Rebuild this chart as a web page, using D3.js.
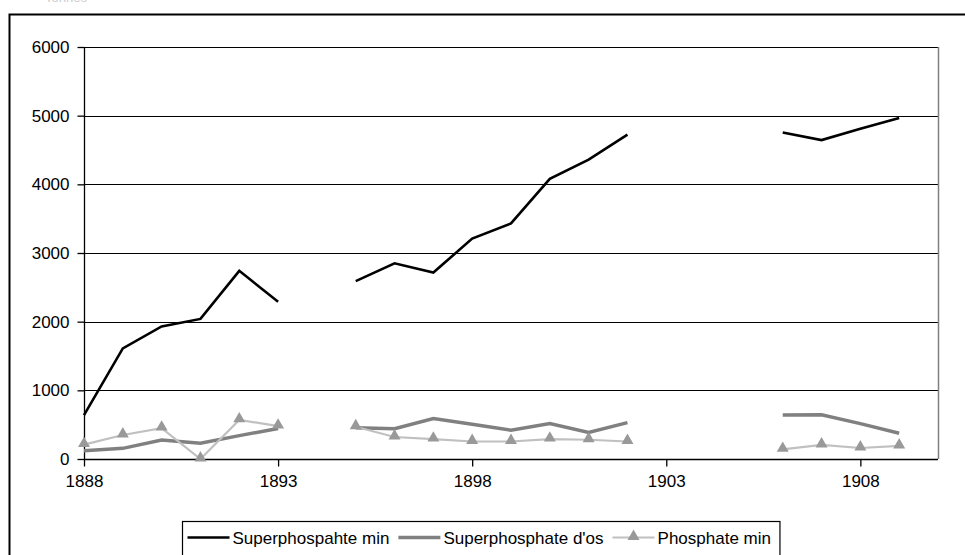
<!DOCTYPE html>
<html>
<head>
<meta charset="utf-8">
<script src="https://cdn.jsdelivr.net/npm/d3@7"></script>
<style>
  body { margin: 0; background: #fff; }
  svg { display: block; font-family: "Liberation Sans", Arial, sans-serif; }
</style>
</head>
<body>
<svg></svg>
<script>
var w = 965, h = 555

// categories (years) and series, tonnes
var years = [1888, 1889, 1890, 1891, 1892, 1893, 1894, 1895, 1896, 1897, 1898, 1899,
             1900, 1901, 1902, 1903, 1904, 1905, 1906, 1907, 1908, 1909, 1910]
var superMin = [640, 1610, 1930, 2040, 2740, 2290, null, 2590, 2850, 2715, 3210, 3430,
                4080, 4360, 4725, null, null, null, 4755, 4645, 4810, 4965, null]
var superOs = [120, 155, 275, 230, 340, 445, null, 455, 440, 590, 505, 420,
               515, 385, 530, null, null, null, 640, 645, 515, 375, null]
var phosMin = [210, 350, 450, 0, 570, 480, null, 470, 320, 290, 255, 255,
               290, 280, 255, null, null, null, 140, 205, 160, 190, null]
var xTicks = [1888, 1893, 1898, 1903, 1908]
var yTicks = [0, 1000, 2000, 3000, 4000, 5000, 6000]
var names = ["Superphospahte min", "Superphosphate d'os", "Phosphate min"]

var svg = d3.select("svg")
    .attr("width", w)
    .attr("height", h)

// faint cut-off caption at the very top
svg.append("text")
    .attr("x", 45)
    .attr("y", 1.5)
    .attr("font-size", 13)
    .attr("fill", "#ccc")
    .text("Tonnes")

// chart frame (runs past the right and bottom edges)
svg.append("rect")
    .attr("x", 9.5)
    .attr("y", 14.5)
    .attr("width", 1000)
    .attr("height", 600)
    .attr("fill", "none")
    .attr("stroke", "#000")
    .attr("stroke-width", 2)

var pl = 84, pr = 938, pt = 47, pb = 459

var x = d3.scalePoint()
    .domain(years)
    .range([pl, pr])

var y = d3.scaleLinear()
    .domain([0, 6000])
    .range([pb, pt])

// gridlines
svg.append("g")
    .selectAll("line")
    .data(yTicks.filter(function(d) { return d > 0 }))
    .join("line")
    .attr("x1", pl)
    .attr("x2", pr)
    .attr("y1", function(d) { return Math.round(y(d)) + .5 })
    .attr("y2", function(d) { return Math.round(y(d)) + .5 })
    .attr("stroke", "#000")
    .attr("stroke-width", 1)

// plot area border, right side grey
svg.append("line")
    .attr("x1", pr + .5).attr("x2", pr + .5)
    .attr("y1", y(6000)).attr("y2", pb)
    .attr("stroke", "#808080")
    .attr("stroke-width", 1.5)

// axes
var yAxis = svg.append("g")
    .attr("transform", "translate(" + (pl + .5) + ",0)")
    .call(d3.axisLeft(y).tickValues(yTicks).tickSize(7).tickPadding(8).tickFormat(d3.format("d")))
var xAxis = svg.append("g")
    .attr("transform", "translate(0," + (pb + .5) + ")")
    .call(d3.axisBottom(x).tickValues(xTicks).tickSize(7).tickPadding(8))

svg.selectAll(".domain").attr("stroke", "#000").attr("stroke-width", 1.3)
svg.selectAll(".tick line").attr("stroke", "#000").attr("stroke-width", 1.3)
svg.selectAll(".tick text")
    .attr("font-family", "'Liberation Sans', Arial, sans-serif")
    .attr("font-size", 17)
    .attr("fill", "#000")
yAxis.select(".domain").attr("d", "M0," + pt + "V" + pb)
xAxis.select(".domain").attr("d", "M" + pl + ",0H" + pr)

// series
function make_line(vals) {
    return d3.line()
        .defined(function(d) { return d != null })
        .x(function(d, i) { return x(years[i]) })
        .y(function(d) { return y(d) })(vals)
}

svg.append("path")
    .attr("d", make_line(superOs))
    .attr("fill", "none")
    .attr("stroke", "#808080")
    .attr("stroke-width", 3.5)

svg.append("path")
    .attr("d", make_line(phosMin))
    .attr("fill", "none")
    .attr("stroke", "#c0c0c0")
    .attr("stroke-width", 2.2)

var tri = d3.symbol().type(d3.symbolTriangle).size(62)
svg.append("g")
    .selectAll("path")
    .data(phosMin.map(function(v, i) { return { year: years[i], v: v } })
        .filter(function(d) { return d.v != null }))
    .join("path")
    .attr("d", tri)
    .attr("transform", function(d) { return "translate(" + x(d.year) + "," + (y(d.v) - 1) + ")" })
    .attr("fill", "#999")

svg.append("path")
    .attr("d", make_line(superMin))
    .attr("fill", "none")
    .attr("stroke", "#000")
    .attr("stroke-width", 2.6)

// legend
var legend = svg.append("g")
var lx = 182.5, ly = 521.5
var lbox = legend.append("rect")
    .attr("x", lx)
    .attr("y", ly)
    .attr("height", 60)
    .attr("fill", "#fff")
    .attr("stroke", "#000")
    .attr("stroke-width", 1.2)

var styles = [
    { color: "#000", width: 2.6, marker: false },
    { color: "#808080", width: 3.5, marker: false },
    { color: "#c0c0c0", width: 2.2, marker: true }
]
var cx = lx + 5
names.forEach(function(name, i) {
    var s = styles[i]
    legend.append("line")
        .attr("x1", cx).attr("x2", cx + 42)
        .attr("y1", ly + 16).attr("y2", ly + 16)
        .attr("stroke", s.color)
        .attr("stroke-width", s.width)
    if (s.marker) {
        legend.append("path")
            .attr("d", tri)
            .attr("transform", "translate(" + (cx + 21) + "," + (ly + 15) + ")")
            .attr("fill", "#999")
    }
    var t = legend.append("text")
        .attr("x", cx + 45)
        .attr("y", ly + 22)
        .attr("font-size", 17)
        .attr("fill", "#000")
        .text(name)
    cx = cx + 45 + t.node().getComputedTextLength() + 9
})
lbox.attr("width", cx - lx)
</script>
</body>
</html>
